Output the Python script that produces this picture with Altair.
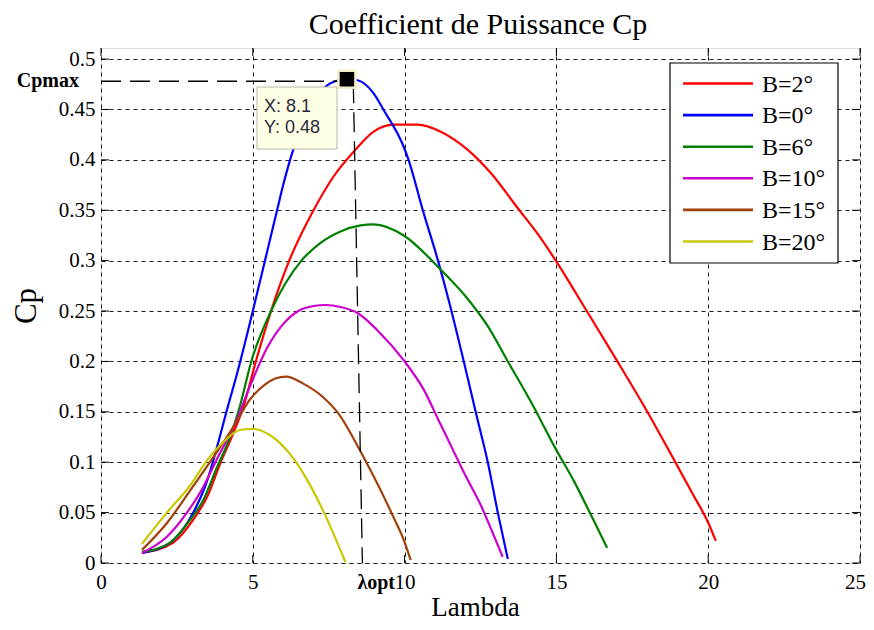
import altair as alt
import pandas as pd

# ---------------- data ----------------
chart_title = "Coefficient de Puissance Cp"
series_labels = ["B=2°", "B=0°", "B=6°", "B=10°", "B=15°", "B=20°"]
series_colors = ["#ff0000", "#0000ff", "#008000", "#cc00cc", "#a0400a", "#c8c800"]

lam_b2 = [1.35, 2.37, 3.04, 3.5, 3.93, 4.36, 4.69, 5.1, 5.6, 6.2, 7.0, 7.65, 8.38, 8.98, 9.64,
          10.43, 11.19, 12.08, 12.84, 13.73, 14.42, 15.0, 16.0, 16.95, 17.9, 18.7, 19.5, 20.0, 20.25]
cp_b2 = [0.010, 0.020, 0.043, 0.066, 0.099, 0.129, 0.155, 0.200, 0.250, 0.300, 0.350, 0.383, 0.410,
         0.428, 0.435, 0.435, 0.428, 0.410, 0.387, 0.352, 0.325, 0.299, 0.250, 0.203, 0.155, 0.112,
         0.068, 0.040, 0.022]

lam_b0 = [1.35, 2.27, 3.04, 3.5, 3.82, 4.15, 4.5, 5.0, 5.4, 5.8, 6.0, 6.33, 6.8, 7.2, 7.56, 8.1,
          8.45, 8.98, 9.3, 9.97, 10.13, 10.6, 11.1, 11.45, 11.95, 12.34, 12.74, 13.07, 13.4]
cp_b0 = [0.010, 0.020, 0.050, 0.082, 0.115, 0.152, 0.190, 0.250, 0.300, 0.350, 0.375, 0.410, 0.445,
         0.466, 0.476, 0.480, 0.479, 0.466, 0.450, 0.413, 0.400, 0.350, 0.300, 0.261, 0.200, 0.150,
         0.100, 0.050, 0.004]

lam_b6 = [1.35, 2.27, 2.94, 3.36, 3.82, 4.25, 4.57, 4.95, 5.6, 6.6, 7.2, 7.89, 8.55, 8.98, 9.97,
          11.19, 12.08, 12.74, 13.4, 14.16, 15.0, 15.6, 16.1, 16.67]
cp_b6 = [0.011, 0.020, 0.043, 0.062, 0.095, 0.125, 0.155, 0.200, 0.250, 0.300, 0.317, 0.329, 0.335,
         0.336, 0.325, 0.291, 0.262, 0.235, 0.200, 0.160, 0.112, 0.080, 0.050, 0.015]

lam_b10 = [1.35, 2.17, 2.83, 3.36, 3.8, 4.47, 4.9, 5.5, 6.0, 6.5, 7.0, 7.4, 7.89, 8.45, 9.1, 10.0,
           10.63, 11.13, 11.58, 12.0, 12.5, 12.9, 13.23]
cp_b10 = [0.010, 0.026, 0.050, 0.075, 0.102, 0.142, 0.175, 0.215, 0.237, 0.250, 0.255, 0.256, 0.254,
          0.248, 0.231, 0.200, 0.172, 0.141, 0.113, 0.087, 0.058, 0.030, 0.006]

lam_b15 = [1.35, 2.18, 2.94, 3.7, 4.36, 4.9, 5.4, 5.74, 6.1, 6.66, 7.3, 7.78, 8.65, 9.2, 9.64, 9.97, 10.2]
cp_b15 = [0.013, 0.040, 0.072, 0.105, 0.135, 0.162, 0.177, 0.183, 0.185, 0.178, 0.165, 0.150, 0.105,
          0.073, 0.045, 0.023, 0.003]

lam_b20 = [1.35, 2.17, 2.94, 3.5, 4.03, 4.57, 5.0, 5.56, 6.2, 6.8, 7.33, 8.05]
cp_b20 = [0.019, 0.050, 0.077, 0.102, 0.120, 0.132, 0.133, 0.127, 0.109, 0.082, 0.051, 0.001]

x_ticks = [0, 5, 10, 15, 20, 25]
y_ticks = [0, 0.05, 0.1, 0.15, 0.2, 0.25, 0.3, 0.35, 0.4, 0.45, 0.5]

cp_max_point = {"lam": 8.1, "cp": 0.48}
cp_max_level = 0.478
lam_opt_line = [8.31, 8.61]
lam_opt_cp = [0.476, 0.0]

# ---------------- layout constants ----------------
W, H = 759, 515
SERIF = "Liberation Serif"
SANS = "Liberation Sans"

rows = []
for lab, lx, ly in zip(series_labels,
                       [lam_b2, lam_b0, lam_b6, lam_b10, lam_b15, lam_b20],
                       [cp_b2, cp_b0, cp_b6, cp_b10, cp_b15, cp_b20]):
    for i, (a, b) in enumerate(zip(lx, ly)):
        rows.append({"series": lab, "lam": a, "cp": b, "i": i})
df = pd.DataFrame(rows)

xscale = alt.Scale(domain=[0, 25], nice=False, zero=False)
yscale = alt.Scale(domain=[0, 0.511], nice=False, zero=False)

xaxis = alt.Axis(values=x_ticks, format="d", title="Lambda", titleFont=SERIF, titleFontSize=27,
                 titleFontWeight="normal", titleColor="black", titleBaseline="alphabetic",
                 titleX=374, titleY=52, titleAnchor="start", titleAlign="center",
                 labelFont=SERIF, labelFontSize=21, labelColor="black", labelPadding=8,
                 labelOffset=alt.ConditionalAxisNumber(
                     condition={"test": "datum.value == 25", "value": -5}, value=0),
                 ticks=False, tickSize=0, domain=False, grid=True, gridColor="black",
                 gridDash=[4, 4], gridWidth=1, gridOpacity=0.9, labelFlush=False)
yaxis = alt.Axis(values=y_ticks, format=".2~f", title="Cp", titleFont=SERIF, titleFontSize=31,
                 titleFontWeight="normal", titleColor="black", titleBaseline="alphabetic",
                 titleX=-66, titleY=H / 2, titleAlign="center", titleAngle=270,
                 labelFont=SERIF, labelFontSize=21, labelColor="black", labelPadding=6,
                 ticks=False, tickSize=0, domain=False, grid=True, gridColor="black",
                 gridDash=[4, 4], gridWidth=1, gridOpacity=0.9, labelFlush=False)

lines = alt.Chart(df).mark_line(strokeWidth=2.2, interpolate="monotone").encode(
    x=alt.X("lam:Q", scale=xscale, axis=xaxis),
    y=alt.Y("cp:Q", scale=yscale, axis=yaxis),
    color=alt.Color("series:N", scale=alt.Scale(domain=series_labels, range=series_colors), legend=None),
    order="i:Q",
)

one = pd.DataFrame({"k": [0]})

# title drawn as text above the plot
title_mark = alt.Chart(one).mark_text(
    text=chart_title, font=SERIF, fontSize=30, color="black",
    align="center", baseline="alphabetic").encode(x=alt.value(377), y=alt.value(-14))

# inward tick marks on all four sides
xt = pd.DataFrame({"t": x_ticks})
yt = pd.DataFrame({"t": y_ticks})
tick_style = dict(color="black", strokeWidth=1)
ticks_bottom = alt.Chart(xt).mark_rule(**tick_style).encode(
    x=alt.X("t:Q", scale=xscale), y=alt.value(H - 8), y2=alt.value(H))
ticks_top = alt.Chart(xt).mark_rule(**tick_style).encode(
    x=alt.X("t:Q", scale=xscale), y=alt.value(0), y2=alt.value(8))
ticks_left = alt.Chart(yt).mark_rule(**tick_style).encode(
    y=alt.Y("t:Q", scale=yscale), x=alt.value(0), x2=alt.value(8))
ticks_right = alt.Chart(yt).mark_rule(**tick_style).encode(
    y=alt.Y("t:Q", scale=yscale), x=alt.value(W - 8), x2=alt.value(W))

# Cp max horizontal dashed line
hdf = pd.DataFrame({"x0": [0], "x1": [cp_max_point["lam"]], "y": [cp_max_level]})
hline = alt.Chart(hdf).mark_rule(color="black", strokeWidth=1.3, strokeDash=[20, 9]).encode(
    x=alt.X("x0:Q", scale=xscale), x2="x1:Q", y=alt.Y("y:Q", scale=yscale))

# lambda opt vertical dashed line
vdf = pd.DataFrame({"lam": lam_opt_line, "cp": lam_opt_cp})
vline = alt.Chart(vdf).mark_line(color="black", strokeWidth=1.3, strokeDash=[20, 9]).encode(
    x=alt.X("lam:Q", scale=xscale), y=alt.Y("cp:Q", scale=yscale))

# data tip marker
pdf = pd.DataFrame([cp_max_point])
halo = alt.Chart(pdf).mark_square(size=380, color="#f4efc4", opacity=1).encode(
    x=alt.X("lam:Q", scale=xscale), y=alt.Y("cp:Q", scale=yscale))
marker = alt.Chart(pdf).mark_square(size=210, color="black", opacity=1).encode(
    x=alt.X("lam:Q", scale=xscale), y=alt.Y("cp:Q", scale=yscale))

# data tip box
tipbox = alt.Chart(one).mark_rect(fill="#ffffe6", stroke="#b8b8a8", strokeWidth=1).encode(
    x=alt.value(156), x2=alt.value(236), y=alt.value(39), y2=alt.value(101))
tip_x = alt.Chart(one).mark_text(text="X: 8.1", font=SANS, fontSize=18, color="#2a2a3a",
                                 align="left", baseline="middle").encode(x=alt.value(163), y=alt.value(59))
tip_y = alt.Chart(one).mark_text(text="Y: 0.48", font=SANS, fontSize=18, color="#2a2a3a",
                                 align="left", baseline="middle").encode(x=alt.value(163), y=alt.value(80))

# labels Cpmax and lambda opt
cpmax_lbl = alt.Chart(pd.DataFrame({"y": [cp_max_level]})).mark_text(
    text="Cpmax", font=SERIF, fontSize=20, fontWeight="bold", color="black",
    align="right", baseline="middle").encode(x=alt.value(-22), y=alt.Y("y:Q", scale=yscale))
lopt_lbl = alt.Chart(one).mark_text(
    text="λopt", font=SERIF, fontSize=20, fontWeight="bold", color="black",
    align="right", baseline="middle").encode(x=alt.value(294), y=alt.value(H + 20))

# legend (drawn manually)
LX0, LX1, LY0, LY1 = 569, 737, 15, 215
legend_box = alt.Chart(one).mark_rect(fill="white", stroke="black", strokeWidth=1.2).encode(
    x=alt.value(LX0), x2=alt.value(LX1), y=alt.value(LY0), y2=alt.value(LY1))
legend_layers = [legend_box]
for k, (lab, col) in enumerate(zip(series_labels, series_colors)):
    yy = LY0 + 20.5 + k * 31.6
    legend_layers.append(
        alt.Chart(one).mark_rule(color=col, strokeWidth=2.6).encode(
            x=alt.value(LX0 + 13), x2=alt.value(LX0 + 83), y=alt.value(yy)))
    legend_layers.append(
        alt.Chart(one).mark_text(text=lab, font=SERIF, fontSize=24, color="black",
                                 align="left", baseline="middle").encode(
            x=alt.value(LX0 + 92), y=alt.value(yy + 1)))

chart = alt.layer(
    lines, ticks_bottom, ticks_top, ticks_left, ticks_right,
    hline, vline, halo, marker, tipbox, tip_x, tip_y, cpmax_lbl, lopt_lbl, title_mark,
    *legend_layers
).properties(
    width=W, height=H,
    autosize=alt.AutoSizeParams(type="none"),
    padding={"left": 93, "top": 40, "right": 6, "bottom": 59},
).configure_view(stroke="black", strokeWidth=1.3).configure(background="white")

chart.save("out.html", embed_options={"renderer": "svg", "actions": False})
